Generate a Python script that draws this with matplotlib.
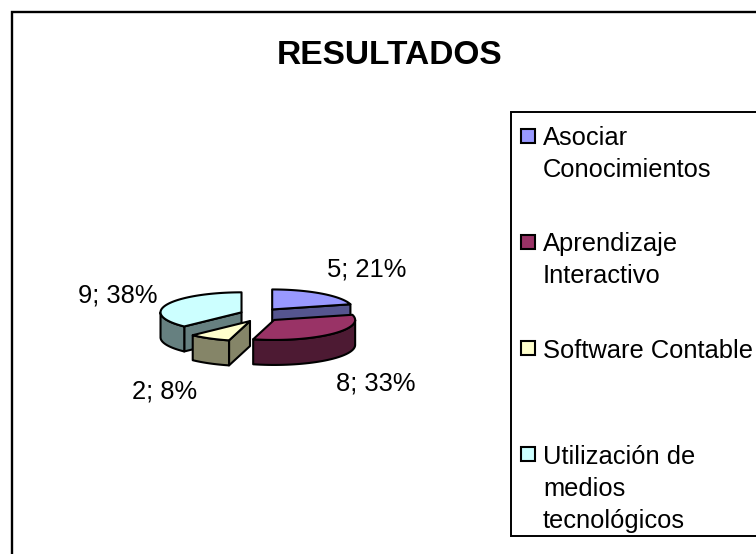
import numpy as np
import matplotlib
matplotlib.use('Agg')
import matplotlib.pyplot as plt
from matplotlib.patches import Polygon, Rectangle

plt.rcParams['font.family'] = ['Liberation Sans', 'DejaVu Sans']

# data
title = 'RESULTADOS'
categories = ['Asociar\nConocimientos', 'Aprendizaje\nInteractivo',
              'Software Contable', 'Utilización de\nmedios\ntecnológicos']
values = [5, 8, 2, 9]
top_colors = ['#9999FF', '#993366', '#FFFFCC', '#CCFFFF']
side_colors = ['#55558F', '#4D1A33', '#858568', '#668080']

# layout, in pixels of the 756x554 picture
label_pos = [(367, 270), (376, 383), (165, 392), (118, 296)]
cx0, cy0 = 260, 315
rx, ry = 81, 20
ex, ey = 20, 7
depth = 25
font_px = 25.5
fs = font_px * 0.72
title_fs = 33.5 * 0.72

fig = plt.figure(figsize=(7.56, 5.54), dpi=100)
ax = fig.add_axes([0, 0, 1, 1])
ax.set_xlim(0, 756)
ax.set_ylim(554, 0)
ax.axis('off')

# chart frame runs off the right and bottom of the picture
ax.plot([12, 12, 756], [554, 12, 12], color='black', lw=1.7, solid_joinstyle='miter')
ax.text(390, 55, title, ha='center', va='center', fontsize=title_fs, fontweight='bold')


def point(cx, cy, deg):
    a = np.radians(deg)
    return cx + rx * np.sin(a), cy - ry * np.cos(a)


def face(pts, color, z):
    ax.add_patch(Polygon(pts, closed=True, fc=color, ec='black', lw=1.5, joinstyle='round', zorder=z))


total = sum(values)
angles = np.cumsum([0] + values) * 360.0 / total
# cyan and blue sit behind, yellow and red in front
draw_order = [3, 0, 2, 1]
for n, i in enumerate(draw_order):
    a0, a1 = angles[i], angles[i + 1]
    mid = np.radians((a0 + a1) / 2)
    cx = cx0 + ex * np.sin(mid)
    cy = cy0 - ey * np.cos(mid)
    z = 3 + n
    for edge, sign in ((a0, -1), (a1, 1)):
        if sign * np.sin(np.radians(edge)) > 1e-6:
            px, py = point(cx, cy, edge)
            face([(cx, cy), (px, py), (px, py + depth), (cx, cy + depth)], side_colors[i], z)
    # outer wall, only the part facing the viewer
    w0, w1 = max(a0, 90), min(a1, 270)
    if w1 > w0:
        arc = [point(cx, cy, d) for d in np.linspace(w0, w1, 40)]
        low = [(x, y + depth) for x, y in arc[::-1]]
        face(arc + low, side_colors[i], z)
    top = [(cx, cy)] + [point(cx, cy, d) for d in np.linspace(a0, a1, 60)]
    face(top, top_colors[i], z)

for v, (x, y) in zip(values, label_pos):
    ax.text(x, y, '%d; %d%%' % (v, round(100 * v / total)), ha='center', va='center', fontsize=fs)

# legend
ax.plot([756, 510.5, 510.5, 756], [112, 112, 536, 536], color='black', lw=1.4, solid_joinstyle='miter')
for k, (name, col) in enumerate(zip(categories, top_colors)):
    yc = 135.5 + k * 106.3
    ax.add_patch(Rectangle((520.5, yc - 7), 14, 14, fc=col, ec='black', lw=1.5))
    for j, line in enumerate(name.split('\n')):
        ax.text(543, yc + 9.5 + j * 32, line, ha='left', va='baseline', fontsize=fs)

fig.savefig('out.png', dpi=100)
